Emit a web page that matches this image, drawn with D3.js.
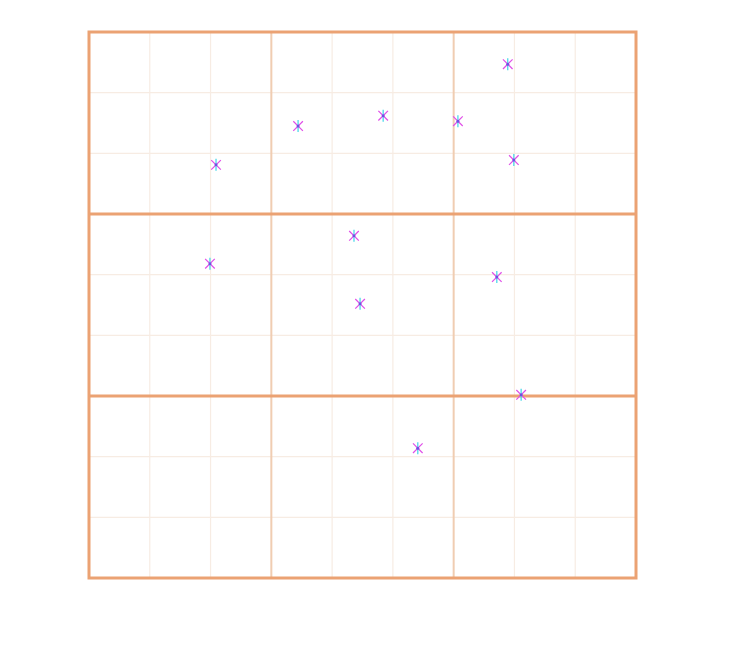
<!DOCTYPE html>
<html>
<head>
<meta charset="utf-8">
<script src="https://cdn.jsdelivr.net/npm/d3@7"></script>
<style>
html,body{margin:0;padding:0;background:#fff;}
svg{display:block;}
</style>
</head>
<body>
<svg id="chart" width="729" height="646"></svg>
<script>
const xValues = [6.89, 3.44, 4.84, 6.07, 2.09, 6.99, 4.36, 1.99, 6.71, 4.46, 7.11, 5.41];
const yValues = [8.47, 7.45, 7.62, 7.53, 6.81, 6.89, 5.64, 5.18, 4.96, 4.52, 3.02, 2.14];
const gridTicks = [0,1,2,3,4,5,6,7,8,9];

(function(){
const svg = d3.select("#chart");
const L = 89, R = 636, T = 32, B = 578;
const x = d3.scaleLinear().domain([0,9]).range([L,R]);
const y = d3.scaleLinear().domain([0,9]).range([B,T]);

const minor = gridTicks.filter(t => t % 3 !== 0);
svg.append("g").selectAll("line").data(minor).join("line")
  .attr("x1", d=>x(d)).attr("x2", d=>x(d)).attr("y1", T).attr("y2", B)
  .attr("stroke", "#f7ece3").attr("stroke-width", 1.2);
svg.append("g").selectAll("line").data(minor).join("line")
  .attr("y1", d=>y(d)).attr("y2", d=>y(d)).attr("x1", L).attr("x2", R)
  .attr("stroke", "#f7ece3").attr("stroke-width", 1.2);

svg.append("g").selectAll("line").data([3,6]).join("line")
  .attr("x1", d=>x(d)).attr("x2", d=>x(d)).attr("y1", T).attr("y2", B)
  .attr("stroke", "#f0cdb2").attr("stroke-width", 2);
svg.append("g").selectAll("line").data([3,6]).join("line")
  .attr("y1", d=>y(d)).attr("y2", d=>y(d)).attr("x1", L).attr("x2", R)
  .attr("stroke", "#eba273").attr("stroke-width", 3);

svg.append("rect").attr("x", L).attr("y", T)
  .attr("width", R-L).attr("height", B-T)
  .attr("fill", "none").attr("stroke", "#eba273").attr("stroke-width", 3);

const pts = xValues.map((v,i)=>({x:v, y:yValues[i]}));
const g = svg.append("g").selectAll("g").data(pts).join("g")
  .attr("transform", d=>`translate(${x(d.x)},${y(d.y)})`);
const r = 6;
const dx = 4.8, dy = 4.8;
g.append("line").attr("x1",-dx).attr("y1",-dy).attr("x2",dx).attr("y2",dy)
  .attr("stroke","#e04ee8").attr("stroke-width",1.2);
g.append("line").attr("x1",-dx).attr("y1",dy).attr("x2",dx).attr("y2",-dy)
  .attr("stroke","#e04ee8").attr("stroke-width",1.2);
g.append("line").attr("x1",0).attr("y1",-r).attr("x2",0).attr("y2",r)
  .attr("stroke","#3fd6e8").attr("stroke-width",1.2);
g.append("circle").attr("r",1.5).attr("fill","#7050e0");
})();
</script>
</body>
</html>
